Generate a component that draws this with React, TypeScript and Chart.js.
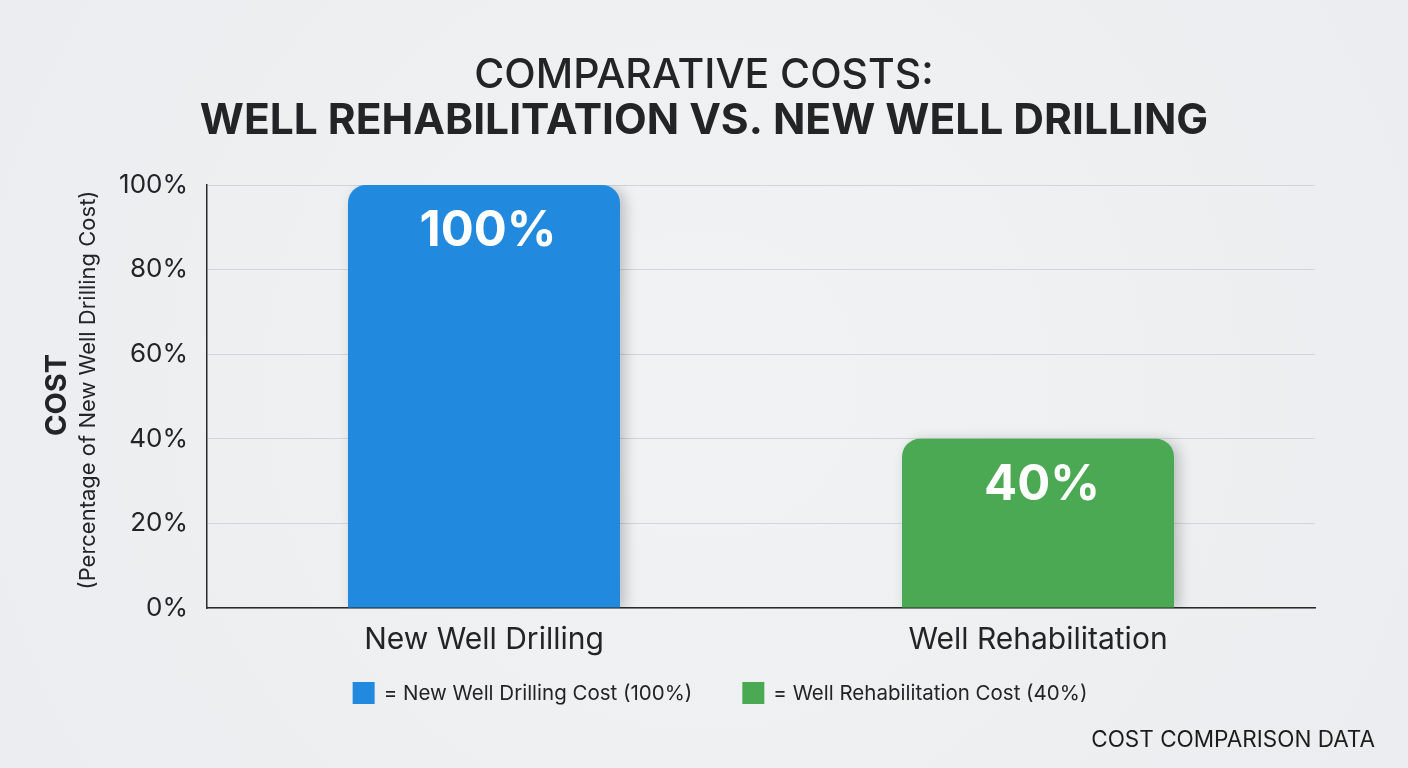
import React, { useEffect, useRef } from "react";
import { Chart, registerables } from "chart.js";

Chart.register(...registerables);

const categories = ["New Well Drilling", "Well Rehabilitation"];
const costValues = [100, 40];
const valueLabels = ["100%", "40%"];
const barColors = ["#2189de", "#4aa952"];
const legendLabels = ["= New Well Drilling Cost (100%)", "= Well Rehabilitation Cost (40%)"];
const titleLines = ["COMPARATIVE COSTS:", "WELL REHABILITATION VS. NEW WELL DRILLING"];
const yTitleMain = "COST";
const yTitleSub = "(Percentage of New Well Drilling Cost)";
const footerText = "COST COMPARISON DATA";
const yMin = 0;
const yMax = 100;
const yStep = 20;

const FONT = "Inter, 'Open Sans', sans-serif";
const TEXT = "#222426";

const decorPlugin = {
  id: "decor",
  beforeDraw(chart: any) {
    const { ctx, width, height } = chart;
    ctx.save();
    const g = ctx.createRadialGradient(width / 2, height / 2, 100, width / 2, height / 2, width * 0.7);
    g.addColorStop(0, "#f0f2f3");
    g.addColorStop(1, "#e9ecee");
    ctx.fillStyle = g;
    ctx.fillRect(0, 0, width, height);
    ctx.restore();
  },
  beforeDatasetsDraw(chart: any) {
    const ctx = chart.ctx;
    ctx.save();
    ctx.shadowColor = "rgba(0,0,0,0.22)";
    ctx.shadowBlur = 14;
    ctx.shadowOffsetX = 5;
    ctx.shadowOffsetY = 2;
  },
  afterDatasetsDraw(chart: any) {
    chart.ctx.restore();
  },
  afterDraw(chart: any) {
    const { ctx } = chart;
    ctx.save();
    ctx.textAlign = "center";
    ctx.textBaseline = "middle";
    ctx.fillStyle = TEXT;
    // Titles
    ctx.font = `500 41px ${FONT}`;
    ctx.fillText(titleLines[0], 704, 76);
    ctx.font = `700 42.5px ${FONT}`;
    ctx.fillText(titleLines[1], 704, 121);

    // Y axis titles
    ctx.save();
    ctx.translate(57, 395);
    ctx.rotate(-Math.PI / 2);
    ctx.font = `700 29px ${FONT}`;
    ctx.fillText(yTitleMain, 0, 0);
    ctx.restore();
    ctx.save();
    ctx.translate(88, 390);
    ctx.rotate(-Math.PI / 2);
    ctx.font = `400 22px ${FONT}`;
    ctx.fillText(yTitleSub, 0, 0);
    ctx.restore();

    // Value labels inside bars
    const meta = chart.getDatasetMeta(0);
    ctx.fillStyle = "#ffffff";
    ctx.font = `700 49px ${FONT}`;
    meta.data.forEach((bar: any, i: number) => {
      ctx.fillText(valueLabels[i], bar.x + 4, bar.y + 46);
    });

    // Legend
    ctx.font = `400 20.5px ${FONT}`;
    ctx.textAlign = "left";
    const box = 22;
    const gapBoxText = 9;
    const gapItems = 50;
    const widths = legendLabels.map((t) => box + gapBoxText + ctx.measureText(t).width);
    const total = widths.reduce((a, b) => a + b, 0) + gapItems * (legendLabels.length - 1);
    let x = 720 - total / 2;
    const ly = 693;
    legendLabels.forEach((t, i) => {
      ctx.fillStyle = barColors[i];
      ctx.fillRect(x, ly - box / 2, box, box);
      ctx.fillStyle = TEXT;
      ctx.fillText(t, x + box + gapBoxText, ly + 1);
      x += widths[i] + gapItems;
    });

    // Footer
    ctx.textAlign = "right";
    ctx.font = `400 22.5px ${FONT}`;
    ctx.fillStyle = "#1c1c1c";
    ctx.fillText(footerText, 1375, 740);
    ctx.restore();
  },
};

export default function App() {
  const ref = useRef<HTMLCanvasElement | null>(null);
  useEffect(() => {
    document.body.style.margin = "0";
    const canvas = ref.current!;
    const chart = new Chart(canvas, {
      type: "bar",
      data: {
        labels: categories,
        datasets: [
          {
            data: costValues,
            backgroundColor: barColors,
            borderRadius: { topLeft: 18, topRight: 18, bottomLeft: 0, bottomRight: 0 },
            borderSkipped: "bottom",
            barPercentage: 0.491,
            categoryPercentage: 1,
          },
        ],
      },
      options: {
        responsive: false,
        animation: false,
        layout: { padding: { top: 185, right: 93, bottom: 0, left: 0 } },
        plugins: {
          legend: { display: false },
          tooltip: { enabled: false },
          title: { display: false },
        },
        scales: {
          x: {
            grid: { display: false, drawTicks: false },
            border: { display: true, color: "#2a2a2a", width: 1.5 },
            ticks: { color: TEXT, font: { family: FONT, size: 30, weight: "400" }, padding: 14 },
            afterFit: (s: any) => {
              s.height = 160;
            },
          },
          y: {
            min: yMin,
            max: yMax,
            grid: { color: "#d3d6d8", lineWidth: 1, drawTicks: false },
            border: { display: true, color: "#2a2a2a", width: 1.5 },
            ticks: {
              stepSize: yStep,
              color: TEXT,
              padding: 19,
              font: { family: FONT, size: 26, weight: "400" },
              callback: (v: any) => `${v}%`,
            },
            afterFit: (s: any) => {
              s.width = 207;
            },
          },
        },
      },
      plugins: [decorPlugin],
    });
    return () => chart.destroy();
  }, []);
  return (
    <div style={{ width: 1408, height: 768 }}>
      <canvas ref={ref} width={1408} height={768} />
    </div>
  );
}
